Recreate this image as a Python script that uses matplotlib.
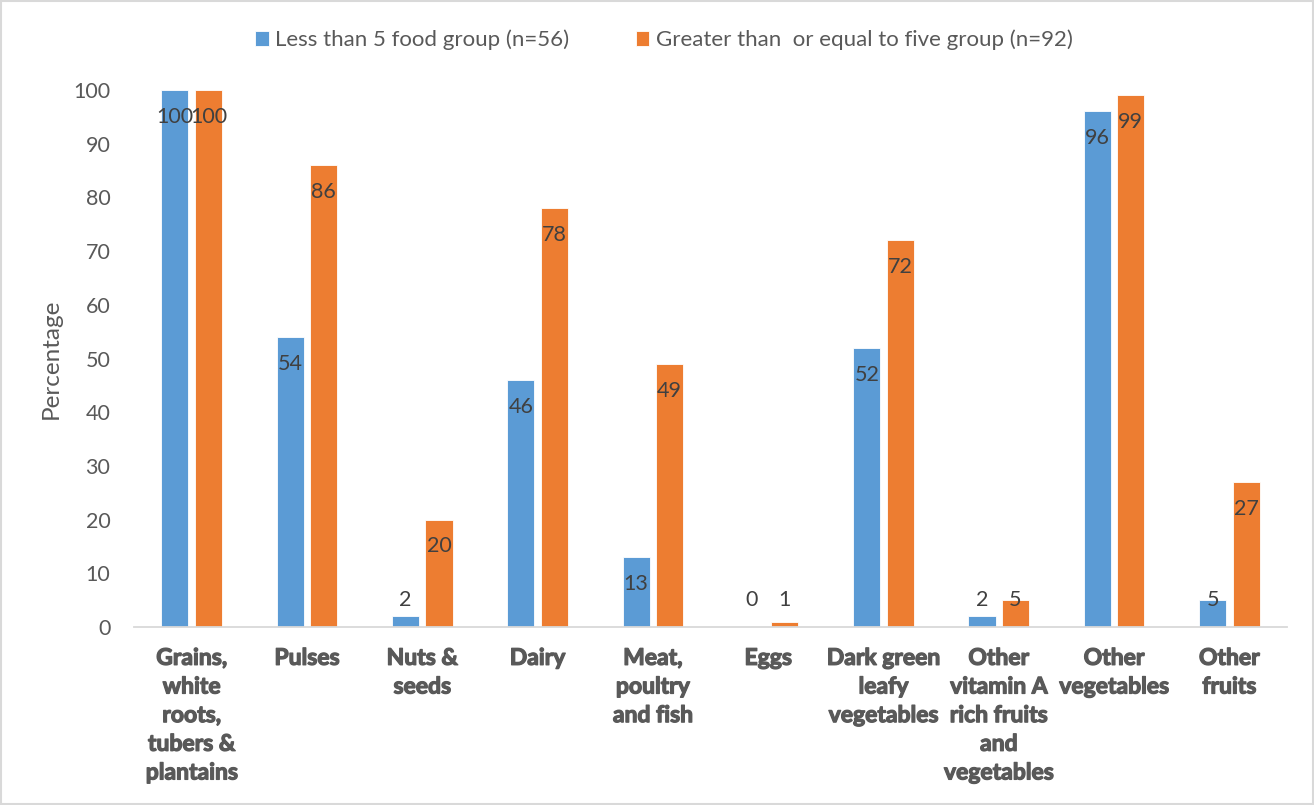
import numpy as np
import matplotlib
matplotlib.use('Agg')
import matplotlib.pyplot as plt
import matplotlib.patheffects as pe
from matplotlib.patches import Rectangle

categories = ['Grains,\nwhite\nroots,\ntubers &\nplantains', 'Pulses', 'Nuts &\nseeds', 'Dairy',
              'Meat,\npoultry\nand fish', 'Eggs', 'Dark green\nleafy\nvegetables',
              'Other\nvitamin A\nrich fruits\nand\nvegetables', 'Other\nvegetables', 'Other\nfruits']
less_than_5 = [100, 54, 2, 46, 13, 0, 52, 2, 96, 5]
five_or_more = [100, 86, 20, 78, 49, 1, 72, 5, 99, 27]
series_names = ['Less than 5 food group (n=56)', 'Greater than  or equal to five group (n=92)']
yticks = list(range(0, 101, 10))

blue = '#5B9BD5'
orange = '#ED7D31'
grey = '#595959'

plt.rcParams['font.family'] = ['Lato', 'DejaVu Sans']

fig = plt.figure(figsize=(13.14, 8.05), dpi=100)
ax = fig.add_axes([134 / 1314, 1 - 627 / 805, 1153 / 1314, 537 / 805])

x = np.arange(len(categories))
w = 0.235
off = 0.145
b1 = ax.bar(x - off, less_than_5, w, color=blue, edgecolor='white', linewidth=0.6, label=series_names[0])
b2 = ax.bar(x + off, five_or_more, w, color=orange, edgecolor='white', linewidth=0.6, label=series_names[1])

# value labels sit just inside the top of each bar, held up off the axis for short bars
for xs, vals in ((x - off, less_than_5), (x + off, five_or_more)):
    for xi, v in zip(xs, vals):
        ax.text(xi, max(v - 5, 5), str(v), ha='center', va='center', fontsize=15.5, color='#404040')

ax.set_xlim(-0.5, len(categories) - 0.5)
ax.set_ylim(0, 100)
ax.set_yticks(yticks)
ax.set_xticks(x)
ax.set_xticklabels(categories, fontsize=16.5, fontweight='bold', color=grey, linespacing=1.45, va='top')
# thicken the category labels a little
for lab in ax.get_xticklabels():
    lab.set_path_effects([pe.withStroke(linewidth=0.9, foreground=grey)])
ax.tick_params(axis='x', length=0, pad=15)
ax.tick_params(axis='y', length=0, labelsize=15.5, labelcolor=grey, pad=17)
for s in ('top', 'right', 'left'):
    ax.spines[s].set_visible(False)
ax.spines['bottom'].set_color('#D9D9D9')
ax.spines['bottom'].set_linewidth(1.3)
ax.set_ylabel('Percentage', fontsize=17.5, color=grey, labelpad=8)

fig.legend(handles=[b1, b2], loc='center', bbox_to_anchor=(664 / 1314, 1 - 40 / 805), ncol=2,
           frameon=False, fontsize=16, labelcolor=grey, handlelength=0.6, handleheight=0.6,
           handletextpad=0.3, columnspacing=3.0)

fig.patches.append(Rectangle((0.001, 0.001), 0.998, 0.998, transform=fig.transFigure,
                             fill=False, edgecolor='#D9D9D9', linewidth=1.5))

fig.savefig('out.png', dpi=100)
